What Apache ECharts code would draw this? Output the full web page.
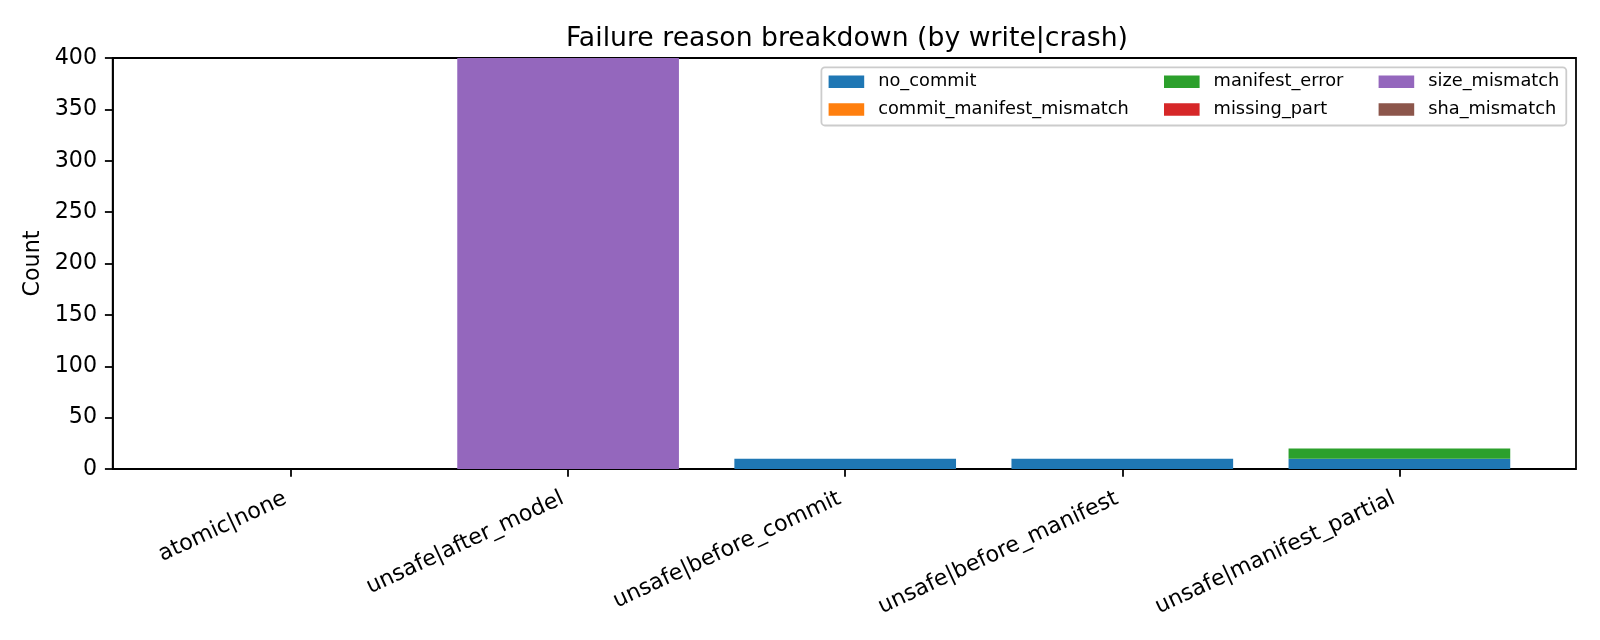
<!DOCTYPE html>
<html>
<head>
<meta charset="utf-8">
<title>Failure reason breakdown</title>
<script src="https://cdn.jsdelivr.net/npm/echarts@6/dist/echarts.min.js"></script>
<style>
  html, body { margin: 0; padding: 0; background: #fff; }
  #chart { width: 1600px; height: 640px; }
</style>
</head>
<body>
<div id="chart"></div>
<script>
// categories (write|crash)
var categories = ['atomic|none', 'unsafe|after_model', 'unsafe|before_commit', 'unsafe|before_manifest', 'unsafe|manifest_partial'];

// failure reason counts per category
var no_commit = [0, 0, 10, 10, 10];
var commit_manifest_mismatch = [0, 0, 0, 0, 0];
var manifest_error = [0, 0, 0, 0, 10];
var missing_part = [0, 0, 0, 0, 0];
var size_mismatch = [0, 400, 0, 0, 0];
var sha_mismatch = [0, 0, 0, 0, 0];

var yTicks = [0, 50, 100, 150, 200, 250, 300, 350, 400];

var reasons = [
  { name: 'no_commit', values: no_commit, color: '#1f77b4' },
  { name: 'commit_manifest_mismatch', values: commit_manifest_mismatch, color: '#ff7f0e' },
  { name: 'manifest_error', values: manifest_error, color: '#2ca02c' },
  { name: 'missing_part', values: missing_part, color: '#d62728' },
  { name: 'size_mismatch', values: size_mismatch, color: '#9467bd' },
  { name: 'sha_mismatch', values: sha_mismatch, color: '#8c564b' }
];

var font = 'DejaVu Sans';
var lw = 1.78;

// grid 0 = axes frame + y axis, grid 1 = bars (category bands of the bar slots)
var series = reasons.map(function (r) {
  return {
    name: r.name,
    type: 'bar',
    stack: 'total',
    xAxisIndex: 1,
    yAxisIndex: 1,
    barWidth: '80%',
    itemStyle: { color: r.color },
    data: r.values
  };
});

function legendCol(left, names) {
  return {
    orient: 'vertical',
    left: left,
    top: 72.7,
    padding: 0,
    itemGap: 9.8,
    itemWidth: 35.6,
    itemHeight: 12.4,
    icon: 'rect',
    selectedMode: false,
    textStyle: { fontFamily: font, fontSize: 17.8, color: '#000', padding: [0, 0, 0, 9] },
    data: names
  };
}

var option = {
  animation: false,
  backgroundColor: '#fff',
  title: {
    text: 'Failure reason breakdown (by write|crash)',
    left: 842,
    top: 21,
    textAlign: 'center',
    textStyle: { fontFamily: font, fontSize: 26.7, fontWeight: 'normal', color: '#000' }
  },
  grid: [
    { left: 112.7, right: 24, top: 58, bottom: 171,
      show: true, borderColor: '#000', borderWidth: lw, backgroundColor: 'transparent' },
    { left: 152.45, right: 62.05, top: 58, bottom: 171 }
  ],
  graphic: [{
    type: 'rect',
    z: 1,
    shape: { x: 821.4, y: 67.3, width: 744.9, height: 58.2, r: 3.5 },
    style: { fill: 'rgba(255,255,255,0.8)', stroke: '#cccccc', lineWidth: lw }
  }],
  legend: [
    legendCol(828.6, ['no_commit', 'commit_manifest_mismatch']),
    legendCol(1164, ['manifest_error', 'missing_part']),
    legendCol(1378.6, ['size_mismatch', 'sha_mismatch'])
  ],
  xAxis: [
    { type: 'value', gridIndex: 0, min: 0, max: 1, show: false },
    {
      type: 'category',
      gridIndex: 1,
      data: categories,
      axisLine: { show: false },
      axisTick: { show: true, alignWithLabel: true, length: 7.8, lineStyle: { color: '#000', width: lw } },
      axisLabel: {
        interval: 0,
        rotate: 25,
        margin: 26,
        fontFamily: font,
        fontSize: 22.2,
        color: '#000',
        padding: [0, 6, 0, 0]
      }
    }
  ],
  yAxis: [
    {
      type: 'value',
      gridIndex: 0,
      min: 0,
      max: 400,
      interval: 50,
      name: 'Count',
      nameLocation: 'middle',
      nameGap: 57,
      nameTextStyle: { fontFamily: font, fontSize: 22.2, color: '#000' },
      splitLine: { show: false },
      axisLine: { show: true, onZero: false, lineStyle: { color: '#000', width: lw } },
      axisTick: { show: true, length: 7.8, lineStyle: { color: '#000', width: lw } },
      axisLabel: {
        margin: 15.6,
        fontFamily: font,
        fontSize: 22.2,
        color: '#000',
        formatter: function (v) { return yTicks.indexOf(v) >= 0 ? String(v) : ''; }
      }
    },
    { type: 'value', gridIndex: 1, min: 0, max: 400, show: false, splitLine: { show: false } }
  ],
  series: series
};

var chart = echarts.init(document.getElementById('chart'), null, { renderer: 'canvas' });
chart.setOption(option);
</script>
</body>
</html>
